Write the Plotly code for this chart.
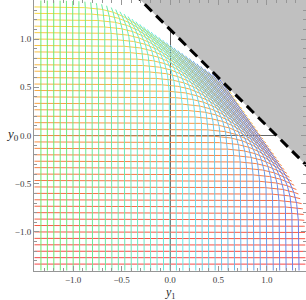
import numpy as np
import colorsys
import plotly.graph_objects as go

# grid levels (parameter lines) and constants
levels = [k / 15 for k in range(-20, 21)]
param_span = [-1.4, 1.4]
boundary_c = 1.1          # dashed line y0 + y1 = c
axis_range = [-1.405, 1.405]
tick_vals = [-1.0, -0.5, 0.0, 0.5, 1.0]
tick_text = ["\u22121.0", "\u22120.5", "0.0", "0.5", "1.0"]

S2 = np.sqrt(2.0)


def transform(x, y):
    u = (x + y) / S2
    w = (y - x) / S2
    up = u - 0.82 * 0.1 * np.log1p(np.exp((u - 0.52) / 0.1))
    return (up - w) / S2, (up + w) / S2


def rgb(h, s, v):
    r, g, b = colorsys.hsv_to_rgb(h, s, v)
    return f"rgb({int(r*255)},{int(g*255)},{int(b*255)})"


fig = go.Figure()

# gray forbidden region
hi = 3.0
fig.add_trace(go.Scatter(x=[boundary_c - hi, hi, hi], y=[hi, boundary_c - hi, hi],
                         fill="toself", fillcolor="rgb(192,192,192)",
                         line=dict(width=0), mode="lines", hoverinfo="skip"))

t = np.linspace(param_span[0], param_span[1], 300)
n = len(levels)
for i, lv in enumerate(levels):
    f = i / (n - 1)
    X, Y = transform(t, np.full_like(t, lv))
    fig.add_trace(go.Scatter(x=X, y=Y, mode="lines",
                             line=dict(color=rgb(0.0 + 0.14 * f, 0.72, 0.97), width=1),
                             hoverinfo="skip"))
for i, lv in enumerate(levels):
    f = i / (n - 1)
    X, Y = transform(np.full_like(t, lv), t)
    fig.add_trace(go.Scatter(x=X, y=Y, mode="lines",
                             line=dict(color=rgb(0.33 + 0.31 * f, 0.55, 0.92), width=1),
                             hoverinfo="skip"))

# dashed boundary
fig.add_trace(go.Scatter(x=[boundary_c - hi, hi], y=[hi, boundary_c - hi], mode="lines",
                         line=dict(color="black", width=3, dash="10px,6px"),
                         hoverinfo="skip"))

axis_common = dict(range=axis_range, showgrid=False, zeroline=True,
                   zerolinecolor="rgb(100,100,100)", zerolinewidth=1,
                   showline=True, linecolor="rgb(150,150,150)", linewidth=1,
                   mirror="ticks", ticks="inside", ticklen=5, tickcolor="rgb(150,150,150)",
                   tickvals=tick_vals, ticktext=tick_text,
                   tickfont=dict(family="Liberation Serif", size=9, color="rgb(60,60,60)"),
                   minor=dict(dtick=0.1, ticklen=3, ticks="inside", tickcolor="rgb(150,150,150)"),
                   layer="above traces", fixedrange=True, automargin=False)

fig.update_layout(
    width=306, height=300,
    margin=dict(l=34, r=0, t=0, b=29, autoexpand=False),
    paper_bgcolor="white", plot_bgcolor="white",
    showlegend=False,
    xaxis=dict(**axis_common),
    yaxis=dict(**axis_common),
)
fig.add_annotation(text="<i>y</i><sub>0</sub>", x=-0.11, y=0.505, xref="paper", yref="paper",
                   showarrow=False, font=dict(family="Liberation Serif", size=13, color="rgb(40,40,40)"))
fig.add_annotation(text="<i>y</i><sub>1</sub>", x=0.5, y=-0.081, xref="paper", yref="paper",
                   showarrow=False, yanchor="middle",
                   font=dict(family="Liberation Serif", size=12, color="rgb(40,40,40)"))

fig.write_html("out.html", config={"displayModeBar": False},
               post_script="document.body.style.margin='0px';document.body.style.overflow='hidden';")
